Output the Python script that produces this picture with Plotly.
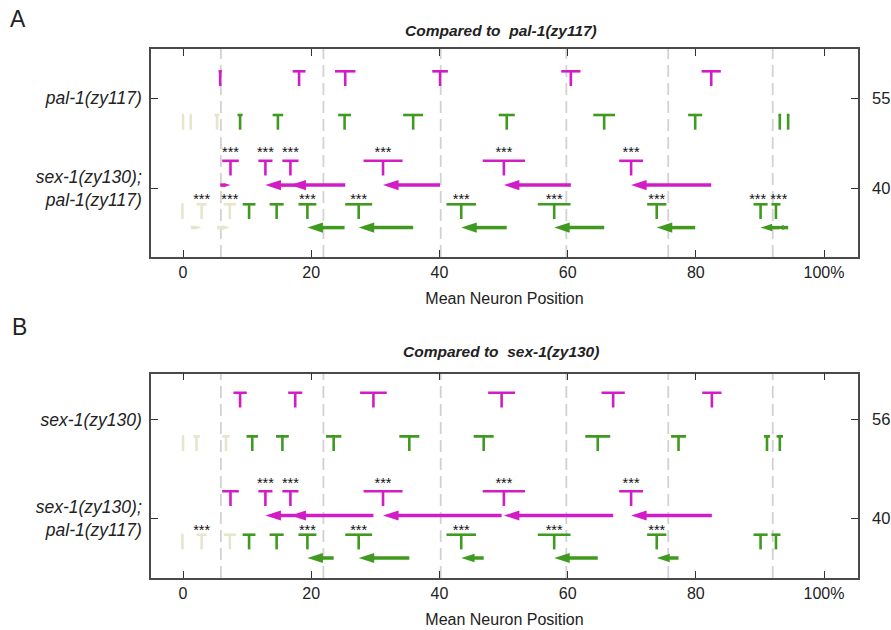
import plotly.graph_objects as go

# ---------------- data (mean neuron position, % of body length) ----------------
landmarks = [5.9, 21.9, 40.2, 59.8, 75.7, 92.0]

# double mutant sex-1(zy130); pal-1(zy117)
dbl_magenta_mean = [7.4, 12.85, 16.75, 31.2, 50.05, 69.9]
dbl_magenta_err = [1.3, 1.1, 1.26, 3.04, 3.3, 1.86]
dbl_green_mean = [-0.1, 2.9, 7.3, 10.3, 14.6, 19.4, 27.4, 43.4, 57.9, 73.9, 90.1, 92.5]
dbl_green_err = [0.15, 0.78, 0.94, 1.0, 1.1, 1.4, 2.1, 2.3, 2.55, 1.5, 1.1, 0.7]

# pal-1(zy117)
pal_magenta_mean = [5.8, 18.1, 25.3, 40.1, 60.5, 82.4]
pal_magenta_err = [0.25, 1.0, 1.6, 1.22, 1.5, 1.5]
pal_green_mean = [0.0, 1.2, 5.3, 8.9, 14.8, 25.2, 35.9, 50.5, 65.7, 79.9, 93.1, 94.4]
pal_green_err = [0.15, 0.15, 0.4, 0.4, 0.83, 1.0, 1.56, 1.25, 1.7, 1.1, 0.2, 0.2]

# sex-1(zy130)
sex_magenta_mean = [8.9, 17.5, 29.7, 49.7, 67.1, 82.5]
sex_magenta_err = [1.04, 1.1, 2.08, 2.1, 1.82, 1.5]
sex_green_mean = [0.0, 2.1, 6.7, 10.8, 15.5, 23.5, 35.3, 46.9, 64.7, 77.3, 91.1, 93.1]
sex_green_err = [0.15, 0.5, 0.57, 0.9, 1.0, 1.2, 1.56, 1.56, 1.95, 1.17, 0.47, 0.5]

# green neurons drawn faded
green_faded = [1, 1, 1, 0, 0, 0, 0, 0, 0, 0, 0, 0]

# significance (***) of double mutant vs reference strain
sig_A_magenta = [1, 1, 1, 1, 1, 1]
sig_A_green = [0, 1, 1, 0, 0, 1, 1, 1, 1, 1, 1, 1]
sig_B_magenta = [0, 1, 1, 1, 1, 1]
sig_B_green = [0, 1, 0, 0, 0, 1, 1, 1, 1, 1, 0, 0]

n_A = ["55", "40"]
n_B = ["56", "40"]
x_ticks = [0, 20, 40, 60, 80, 100]
x_ticktext = ["0", "20", "40", "60", "80", "100%"]

# ---------------- styles / layout constants ----------------
MAG = "#d21cc6"
GRN = "#3f9a1f"
BEIGE = "#e6e6cc"
FONT = "Liberation Sans, Arial, sans-serif"
STEM = 14.7
PX_PER_UNIT = 707 / 110.3
STAR_W = 3.3  # approx. width of "***" in axis units

fig = go.Figure()


def tees(means, errs, ybar, colors, xa, ya):
    groups = {}
    for m, e, c in zip(means, errs, colors):
        gx, gy = groups.setdefault(c, ([], []))
        gx += [m - e, m + e, None, m, m, None]
        gy += [ybar, ybar, None, ybar, ybar + STEM, None]
    for c, (gx, gy) in groups.items():
        fig.add_trace(go.Scatter(x=gx, y=gy, mode="lines", line=dict(color=c, width=2.6),
                                 xaxis=xa, yaxis=ya, showlegend=False, hoverinfo="skip"))


def stars(means, sig, ytxt, xa, ya):
    xs = [m for m, s in zip(means, sig) if s]
    # push apart labels that would overlap
    for i in range(1, len(xs)):
        gap = xs[i] - xs[i - 1]
        if gap < STAR_W:
            d = (STAR_W - gap) / 2
            xs[i - 1] -= d
            xs[i] += d
    fig.add_trace(go.Scatter(x=xs, y=[ytxt] * len(xs), mode="text", text=["***"] * len(xs),
                             textfont=dict(size=14.5, color="#111", family=FONT),
                             xaxis=xa, yaxis=ya, showlegend=False, hoverinfo="skip"))


def arrows(ref, comp, sig, yarr, colors, xa, ya):
    groups = {}
    for r, c, s, col in zip(ref, comp, sig, colors):
        if not s or abs(c - r) < 1:
            continue
        lpx = abs(c - r) * PX_PER_UNIT
        head = min(15.5, 0.55 * lpx + 1)
        gx, gy, gs = groups.setdefault(col, ([], [], []))
        gx += [r, c, None]
        gy += [yarr, yarr, None]
        gs += [0, head / 0.95, 0]
    for col, (gx, gy, gs) in groups.items():
        fig.add_trace(go.Scatter(x=gx, y=gy, mode="lines+markers",
                                 line=dict(color=col, width=3.5),
                                 marker=dict(symbol="arrow", size=gs, color=col, opacity=1,
                                             angleref="previous", line=dict(width=0)),
                                 xaxis=xa, yaxis=ya, showlegend=False, hoverinfo="skip"))


def panel(ref_m, ref_me, ref_g, ref_ge, sig_m, sig_g, centers, xa, ya, ya_right):
    top, bot = centers
    mag_cols = [MAG] * len(ref_m)
    grn_cols = [BEIGE if f else GRN for f in green_faded]
    # reference strain rows
    tees(ref_m, ref_me, top - 27, mag_cols, xa, ya)
    tees(ref_g, ref_ge, top + 16.7, grn_cols, xa, ya)
    # double mutant rows
    tees(dbl_magenta_mean, dbl_magenta_err, bot - 27.5, mag_cols, xa, ya)
    tees(dbl_green_mean, dbl_green_err, bot + 16, grn_cols, xa, ya)
    stars(dbl_magenta_mean, sig_m, bot - 27.5 - 7.2, xa, ya)
    stars(dbl_green_mean, sig_g, bot + 16 - 3.6, xa, ya)
    arrows(ref_m, dbl_magenta_mean, sig_m, bot - 3.2, mag_cols, xa, ya)
    arrows(ref_g, dbl_green_mean, sig_g, bot + 39.3, grn_cols, xa, ya)
    fig.add_trace(go.Scatter(x=[None], y=[None], xaxis=xa, yaxis=ya_right,
                             showlegend=False, hoverinfo="skip"))


centers_A = (49.3, 139.3)
centers_B = (46.0, 145.0)
panel(pal_magenta_mean, pal_magenta_err, pal_green_mean, pal_green_err,
      sig_A_magenta, sig_A_green, centers_A, "x", "y", "y2")
panel(sex_magenta_mean, sex_magenta_err, sex_green_mean, sex_green_err,
      sig_B_magenta, sig_B_green, centers_B, "x2", "y3", "y4")

# dashed landmark lines
for xref, yref in [("x", "y domain"), ("x2", "y3 domain")]:
    for lm in landmarks:
        fig.add_shape(type="line", x0=lm, x1=lm, y0=0, y1=1, xref=xref, yref=yref,
                      line=dict(color="#d2d2d2", width=1.8, dash="12px,6px"), layer="below")

axis_line = dict(showline=True, linecolor="#4a4a4a", linewidth=1.5, ticks="inside",
                 ticklen=7, tickcolor="#333", tickwidth=1.2, showgrid=False, zeroline=False,
                 automargin=False)

xcommon = dict(range=[-5, 105.3], tickvals=x_ticks, ticktext=x_ticktext, mirror="ticks",
               tickfont=dict(size=16, family=FONT, color="#222"),
               title=dict(text="Mean Neuron Position", font=dict(size=16, family=FONT, color="#222"),
                          standoff=13),
               **axis_line)

left_font = dict(size=17.5, family=FONT, color="#222")
right_font = dict(size=16.5, family=FONT, color="#222")
left_labels = ["<i>pal-1(zy117)</i>", "<i>sex-1(zy130);</i><br><i>pal-1(zy117)</i>"]
left_labels_B = ["<i>sex-1(zy130)</i>", "<i>sex-1(zy130);</i><br><i>pal-1(zy117)</i>"]
dom_A = [1 - 208 / 529, 1]
dom_B = [0, 204.3 / 529]

fig.update_layout(
    width=891, height=630, autosize=False,
    margin=dict(l=151, r=33, t=49, b=52),
    paper_bgcolor="white", plot_bgcolor="white",
    font=dict(family=FONT, color="#222"),
    xaxis=dict(anchor="y", domain=[0, 1], **xcommon),
    xaxis2=dict(anchor="y3", domain=[0, 1], **xcommon),
    yaxis=dict(domain=dom_A, range=[208, 0], tickvals=list(centers_A), ticktext=left_labels,
               tickfont=left_font, mirror=True, anchor="x", ticklabelstandoff=4, **axis_line),
    yaxis2=dict(overlaying="y", side="right", anchor="x", range=[208, 0],
                tickvals=list(centers_A), ticktext=n_A, tickfont=right_font,
                ticklabelstandoff=9, **axis_line),
    yaxis3=dict(domain=dom_B, range=[204.3, 0], tickvals=list(centers_B), ticktext=left_labels_B,
                tickfont=left_font, mirror=True, anchor="x2", ticklabelstandoff=4, **axis_line),
    yaxis4=dict(overlaying="y3", side="right", anchor="x2", range=[204.3, 0],
                tickvals=list(centers_B), ticktext=n_B, tickfont=right_font,
                ticklabelstandoff=9, **axis_line),
)


def ypaper(py):
    return (578 - py) / 529


def xpaper(px):
    return (px - 151) / 707


ann = [
    dict(text="<b><i>Compared to  pal-1(zy117)</i></b>", x=xpaper(501), y=ypaper(30), font=dict(size=15.5)),
    dict(text="<b><i>Compared to  sex-1(zy130)</i></b>", x=xpaper(501), y=ypaper(352), font=dict(size=15.5)),
    dict(text="A", x=xpaper(18), y=ypaper(18.5), font=dict(size=23)),
    dict(text="B", x=xpaper(19), y=ypaper(327), font=dict(size=23)),
]
for a in ann:
    fig.add_annotation(xref="paper", yref="paper", showarrow=False, xanchor="center",
                       yanchor="middle", **a)

fig.write_html("out.html")
